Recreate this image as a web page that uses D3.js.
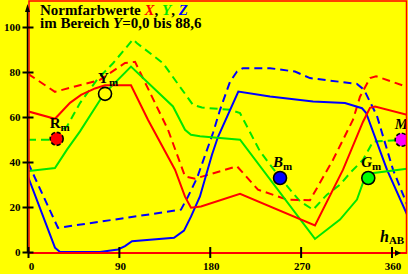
<!DOCTYPE html>
<html>
<head>
<meta charset="utf-8">
<script src="https://cdn.jsdelivr.net/npm/d3@7"></script>
<style>
  body { margin: 0; background: #ffff00; }
  svg { display: block; }
  text { font-family: "Liberation Serif", "Times New Roman", serif; font-weight: bold; }
</style>
</head>
<body>
<svg id="chart" width="408" height="274"></svg>
<script>
// Normfarbwerte X, Y, Z over hue angle h_AB (solid = one set, dashed = other)

const HUE_TICKS = [0, 90, 180, 270, 360];
const VAL_TICKS = [0, 20, 40, 60, 80, 100];

// [h_AB, value]
const X_SOLID = [[0, 62.5], [26.7, 59.2], [41.6, 66.3], [52.5, 69.8], [66.4, 72.7], [76.3, 74.1],
  [102, 74.1], [118.8, 58.8], [145.6, 36.6], [155.5, 24.6], [161.4, 19.7], [171.3, 20.2],
  [210, 25.9], [284.2, 11.8], [312, 36.6], [331.8, 57.9], [338.7, 64.1], [343.7, 64.7], [375.4, 61.0]];
const X_DASH = [[0, 79.2], [26.7, 71.2], [71.3, 76.5], [96.1, 84.0], [106, 84.5], [138.7, 54.3],
  [155.5, 33.6], [165.4, 32.6], [207, 38.1], [227.8, 27.7], [256.5, 23.3], [279.3, 23.0],
  [302.1, 41.0], [321.9, 58.8], [328.8, 69.0], [338.7, 77.3], [344.7, 78.1], [375.4, 73.4]];
const Y_SOLID = [[0, 35.9], [26.7, 37.3], [38.6, 45.5], [51.5, 53.6], [75.3, 70.3], [102, 82.4],
  [143.6, 64.7], [155.5, 54.3], [161.4, 52.1], [170.3, 51.4], [210, 49.9], [284.2, 5.8],
  [309, 14.4], [325.8, 23.3], [331.8, 30.8], [336.7, 34.8], [375.4, 37.0]];
const Y_DASH = [[0, 49.9], [21.8, 49.9], [38.6, 55.8], [51.5, 66.2], [68.3, 76.5], [84.2, 83.9],
  [104, 94.5], [108, 92.8], [133.7, 83.9], [163.4, 65.4], [172.3, 64.2], [200.1, 63.2],
  [210, 61.7], [229.8, 44.7], [249.6, 33.0], [269.4, 22.5], [282.3, 18.8], [296.1, 25.5],
  [309, 29.9], [318.9, 35.1], [331.8, 41.0], [341.7, 49.1], [375.4, 49.9]];
const Z_SOLID = [[0, 33.5], [26.7, 1.9], [31.7, 0], [71.3, 0], [89.1, 1.1], [96.1, 2.6], [103, 4.8],
  [144.6, 6.3], [154.5, 9.5], [161.4, 15.7], [170.3, 24.7], [182.2, 43.2], [188.2, 51.2],
  [208.3, 71.3], [239.7, 69.1], [282.3, 66.9], [313.9, 66.2], [330.8, 63.9], [334.8, 61.9],
  [355.5, 36.6], [375.4, 16.6]];
const Z_DASH = [[0, 39.7], [29.7, 10.7], [151.5, 18.8], [158.5, 24.7], [167.4, 32.9], [183.2, 52.9],
  [190.2, 63.2], [200.1, 75.7], [207, 80.2], [212.9, 81.7], [239.7, 81.7], [264.4, 80.2],
  [279.3, 77.3], [325.8, 74.7], [332.8, 72.1], [345.6, 60.5], [361.5, 36.6], [375.4, 21.1]];

// marked points
const MARK_NAMES = ["R", "Y", "B", "G", "M"];
const MARK_H = [28.4, 76.3, 249.6, 337, 370.1];
const MARK_V = [50.3, 70.3, 32.9, 32.9, 49.9];

const RED = "#ff0000", GREEN = "#00e600", BLUE = "#0000ff";
const MARK_FILL = { R: "#ff0000", Y: "#ffff00", B: "#0000ff", G: "#00ff00", M: "#ff00ff" };
const MARK_ITALIC = { R: false, Y: false, B: true, G: true, M: true };

const svg = d3.select("#chart");
const x = d3.scaleLinear().domain([0, 360]).range([28, 391.5]);
const y = d3.scaleLinear().domain([0, 100]).range([252, 27]);

svg.append("rect").attr("width", 408).attr("height", 274).attr("fill", "#ffff00");

svg.append("clipPath").attr("id", "plot")
  .append("rect").attr("x", 29).attr("y", 1).attr("width", 377.5).attr("height", 252);

const g = svg.append("g").attr("clip-path", "url(#plot)");
const line = d3.line().x(d => x(d[0])).y(d => y(d[1]));

const series = [
  { data: Z_DASH, color: BLUE, dash: true },
  { data: Y_DASH, color: GREEN, dash: true },
  { data: X_DASH, color: RED, dash: true },
  { data: Z_SOLID, color: BLUE, dash: false },
  { data: Y_SOLID, color: GREEN, dash: false },
  { data: X_SOLID, color: RED, dash: false }
];
g.selectAll("path.curve").data(series).join("path")
  .attr("class", "curve")
  .attr("d", d => line(d.data))
  .attr("fill", "none")
  .attr("stroke", d => d.color)
  .attr("stroke-width", 2)
  .attr("stroke-dasharray", d => d.dash ? "8,5" : null);

// frame
svg.append("rect").attr("x", 29).attr("y", 1).attr("width", 377.5).attr("height", 252)
  .attr("fill", "none").attr("stroke", RED).attr("stroke-width", 1.5);
svg.append("line").attr("x1", 28).attr("x2", 407).attr("y1", 253).attr("y2", 253)
  .attr("stroke", RED).attr("stroke-width", 2);

// marks
const marks = MARK_NAMES.map((n, i) => ({ n, h: MARK_H[i], v: MARK_V[i] }));
const mg = g.selectAll("g.mark").data(marks).join("g").attr("class", "mark")
  .attr("transform", d => `translate(${x(d.h)},${y(d.v)})`);
mg.append("circle").attr("r", 6.5)
  .attr("fill", d => MARK_FILL[d.n])
  .attr("stroke", "#000").attr("stroke-width", 1.6)
  .attr("stroke-dasharray", d => (d.n === "R" || d.n === "M") ? "4,2" : null);
const lt = mg.append("text").attr("x", -7).attr("y", -11).attr("font-size", 15).attr("fill", "#000");
lt.append("tspan").attr("font-style", d => MARK_ITALIC[d.n] ? "italic" : "normal").text(d => d.n);
lt.append("tspan").attr("font-size", 11).attr("dy", 3).text("m");

// y axis
const yAxis = svg.append("g").attr("transform", "translate(27.5,0)")
  .call(d3.axisLeft(y).tickValues(VAL_TICKS).tickSize(0).tickPadding(7));
yAxis.select(".domain").remove();
yAxis.selectAll(".tick line").attr("x1", -5).attr("x2", 6).attr("stroke", "#000").attr("stroke-width", 2);
yAxis.selectAll(".tick text").attr("font-size", 11).attr("font-family", null).attr("fill", "#000");
svg.append("line").attr("x1", 27.5).attr("x2", 27.5).attr("y1", 253).attr("y2", 9)
  .attr("stroke", "#000").attr("stroke-width", 1.5);
svg.append("path").attr("d", "M27.5,4 L30,12 L25,12 Z").attr("fill", "#000");

// x axis
const xAxis = svg.append("g").attr("transform", "translate(0,253)")
  .call(d3.axisBottom(x).tickValues(HUE_TICKS).tickSize(0).tickPadding(9));
xAxis.select(".domain").remove();
xAxis.selectAll(".tick line").attr("y1", -6).attr("y2", 5).attr("stroke", "#000").attr("stroke-width", 2);
xAxis.selectAll(".tick text").attr("font-size", 11).attr("font-family", null).attr("fill", "#000")
  .attr("y", 9).attr("dx", (d, i) => i === 0 ? 3 : 1);
svg.append("path").attr("d", "M401,253 L395,250 L395,256 Z").attr("fill", "#000");

const hl = svg.append("text").attr("x", 380).attr("y", 242).attr("fill", "#000");
hl.append("tspan").attr("font-size", 16).attr("font-style", "italic").text("h");
hl.append("tspan").attr("font-size", 11).attr("dy", 2).text("AB");

// title
const t1 = svg.append("text").attr("x", 40).attr("y", 15).attr("font-size", 15).attr("fill", "#000");
t1.append("tspan").text("Normfarbwerte ");
t1.append("tspan").attr("font-style", "italic").attr("fill", RED).text("X");
t1.append("tspan").text(", ");
t1.append("tspan").attr("font-style", "italic").attr("fill", GREEN).text("Y");
t1.append("tspan").text(", ");
t1.append("tspan").attr("font-style", "italic").attr("fill", BLUE).text("Z");
const t2 = svg.append("text").attr("x", 40).attr("y", 28).attr("font-size", 15).attr("fill", "#000");
t2.append("tspan").text("im Bereich ");
t2.append("tspan").attr("font-style", "italic").text("Y");
t2.append("tspan").text("=0,0 bis 88,6");
</script>
</body>
</html>
